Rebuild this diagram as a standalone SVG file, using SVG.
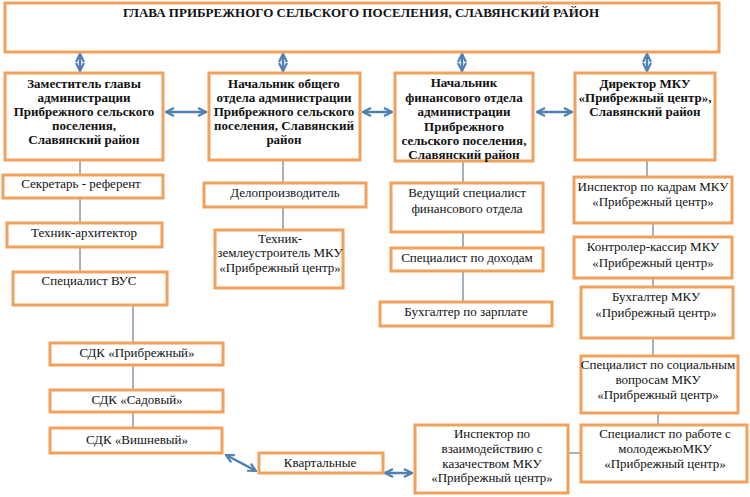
<svg xmlns="http://www.w3.org/2000/svg" width="750" height="497" viewBox="0 0 750 497">
<defs>
<style>
.box{fill:#fff;stroke:#f1a15c;stroke-width:3}
.h{font-family:"Liberation Serif","Times New Roman",serif;font-weight:bold;font-size:13px;text-anchor:middle;fill:#111}
.t{font-family:"Liberation Serif","Times New Roman",serif;font-size:13px;text-anchor:middle;fill:#111}
.ln{stroke:#4a6680;stroke-width:1;fill:none}
.ar{stroke:#4f7fb5;stroke-width:2.5;fill:none;marker-start:url(#ah);marker-end:url(#ah)}
</style>
<marker id="ah" viewBox="0 0 10 10" refX="9" refY="5" markerWidth="4" markerHeight="4" orient="auto-start-reverse" markerUnits="strokeWidth">
<path d="M1,1 L9,5 L1,9" fill="none" stroke="#4f7fb5" stroke-width="2.2"/>
</marker>
</defs>
<rect width="750" height="497" fill="#fff"/>

<g id="connectors">
<line class="ar" x1="80" y1="54" x2="80" y2="71"/>
<line class="ar" x1="283" y1="54" x2="283" y2="71"/>
<line class="ar" x1="462" y1="54" x2="462" y2="71"/>
<line class="ar" x1="647" y1="54" x2="647" y2="71"/>
<line class="ar" x1="166" y1="112" x2="206" y2="112"/>
<line class="ar" x1="363" y1="112" x2="392" y2="112"/>
<line class="ar" x1="537" y1="112" x2="572" y2="112"/>
<line class="ar" x1="226" y1="455" x2="256" y2="471"/>
<line class="ar" x1="385" y1="473" x2="412" y2="473"/>
<path class="ln" d="M80,160V175M80,198V223M80,247V272M133,305V343M133,365V390M133,412V428"/>
<path class="ln" d="M283,160V183M283,207V230"/>
<path class="ln" d="M463,161V183M463,232V248M463,271V302"/>
<path class="ln" d="M647,160V177M653,223V237M653,278V287M653,338V356M658,413V425M568,453H581"/>
</g>

<g id="glava">
<rect class="box" x="5" y="3" width="714" height="49"/>
<text class="h" x="361" y="17" font-size="12.5">ГЛАВА ПРИБРЕЖНОГО СЕЛЬСКОГО ПОСЕЛЕНИЯ, СЛАВЯНСКИЙ РАЙОН</text>
</g>

<g id="zam">
<rect class="box" x="5" y="73" width="158" height="87"/>
<text class="h" x="84" y="87.5">Заместитель главы</text>
<text class="h" x="84" y="101.5">администрации</text>
<text class="h" x="84" y="116">Прибрежного сельского</text>
<text class="h" x="84" y="130">поселения,</text>
<text class="h" x="84" y="144">Славянский район</text>
</g>

<g id="nach-obsh">
<rect class="box" x="209" y="73" width="151" height="87"/>
<text class="h" x="284" y="87.5">Начальник общего</text>
<text class="h" x="284" y="101.5">отдела администрации</text>
<text class="h" x="284" y="116">Прибрежного сельского</text>
<text class="h" x="284" y="130">поселения, Славянский</text>
<text class="h" x="284" y="144">район</text>
</g>

<g id="nach-fin">
<rect class="box" x="395" y="73" width="138" height="88"/>
<text class="h" x="464" y="86.5">Начальник</text>
<text class="h" x="464" y="101.5">финансового отдела</text>
<text class="h" x="464" y="116">администрации</text>
<text class="h" x="464" y="130.5">Прибрежного</text>
<text class="h" x="464" y="144.5">сельского поселения,</text>
<text class="h" x="464" y="159">Славянский район</text>
</g>

<g id="direktor">
<rect class="box" x="575" y="73" width="140" height="87"/>
<text class="h" x="645" y="87.5">Директор МКУ</text>
<text class="h" x="645" y="101.5">«Прибрежный центр»,</text>
<text class="h" x="645" y="116">Славянский район</text>
</g>

<g id="sekretar">
<rect class="box" x="3" y="175" width="160" height="23"/>
<text class="t" x="81" y="188">Секретарь - референт</text>
</g>
<g id="tehnik-arh">
<rect class="box" x="7" y="223" width="155" height="24"/>
<text class="t" x="84" y="236.5">Техник-архитектор</text>
</g>
<g id="vus">
<rect class="box" x="13" y="272" width="154" height="33"/>
<text class="t" x="89" y="285">Специалист ВУС</text>
</g>
<g id="sdk-pr">
<rect class="box" x="50" y="343" width="173" height="22"/>
<text class="t" x="137" y="356.5">СДК «Прибрежный»</text>
</g>
<g id="sdk-sad">
<rect class="box" x="50" y="390" width="173" height="22"/>
<text class="t" x="137" y="403.5">СДК «Садовый»</text>
</g>
<g id="sdk-vish">
<rect class="box" x="50" y="428" width="172" height="25"/>
<text class="t" x="137" y="443.5">СДК «Вишневый»</text>
</g>
<g id="kvartal">
<rect class="box" x="259" y="453" width="124" height="20"/>
<text class="t" x="320" y="467">Квартальные</text>
</g>

<g id="delopr">
<rect class="box" x="204" y="183" width="162" height="24"/>
<text class="t" x="285" y="196.5">Делопроизводитель</text>
</g>
<g id="zemle">
<rect class="box" x="215" y="230" width="128" height="58"/>
<text class="t" x="280" y="242.5">Техник-</text>
<text class="t" x="280" y="257">землеустроитель МКУ</text>
<text class="t" x="280" y="272">«Прибрежный центр»</text>
</g>

<g id="ved-spec">
<rect class="box" x="391" y="183" width="152" height="49"/>
<text class="t" x="467" y="196.5">Ведущий специалист</text>
<text class="t" x="467" y="212.5">финансового отдела</text>
</g>
<g id="dohody">
<rect class="box" x="391" y="248" width="152" height="23"/>
<text class="t" x="467" y="261.5">Специалист по доходам</text>
</g>
<g id="zarplata">
<rect class="box" x="380" y="302" width="172" height="24"/>
<text class="t" x="466" y="315.5">Бухгалтер по зарплате</text>
</g>

<g id="kadry">
<rect class="box" x="574" y="177" width="158" height="46"/>
<text class="t" x="653" y="190.5">Инспектор по кадрам МКУ</text>
<text class="t" x="653" y="205.5">«Прибрежный центр»</text>
</g>
<g id="kassir">
<rect class="box" x="574" y="237" width="158" height="41"/>
<text class="t" x="653" y="250.5">Контролер-кассир МКУ</text>
<text class="t" x="653" y="266.5">«Прибрежный центр»</text>
</g>
<g id="buh-mku">
<rect class="box" x="581" y="287" width="152" height="51"/>
<text class="t" x="656" y="300.5">Бухгалтер МКУ</text>
<text class="t" x="656" y="316.5">«Прибрежный центр»</text>
</g>
<g id="social">
<rect class="box" x="581" y="356" width="157" height="57"/>
<text class="t" x="658" y="368.5">Специалист по социальным</text>
<text class="t" x="658" y="383.5">вопросам МКУ</text>
<text class="t" x="658" y="398.5">«Прибрежный центр»</text>
</g>
<g id="molodezh">
<rect class="box" x="581" y="425" width="166" height="57"/>
<text class="t" x="665" y="437.5">Специалист по работе с</text>
<text class="t" x="665" y="452.5">молодежьюМКУ</text>
<text class="t" x="665" y="467.5">«Прибрежный центр»</text>
</g>
<g id="kazach">
<rect class="box" x="415" y="425" width="153" height="68"/>
<text class="t" x="492" y="437.5">Инспектор по</text>
<text class="t" x="492" y="452.5">взаимодействию с</text>
<text class="t" x="492" y="467.5">казачеством МКУ</text>
<text class="t" x="492" y="481.5">«Прибрежный центр»</text>
</g>
</svg>
